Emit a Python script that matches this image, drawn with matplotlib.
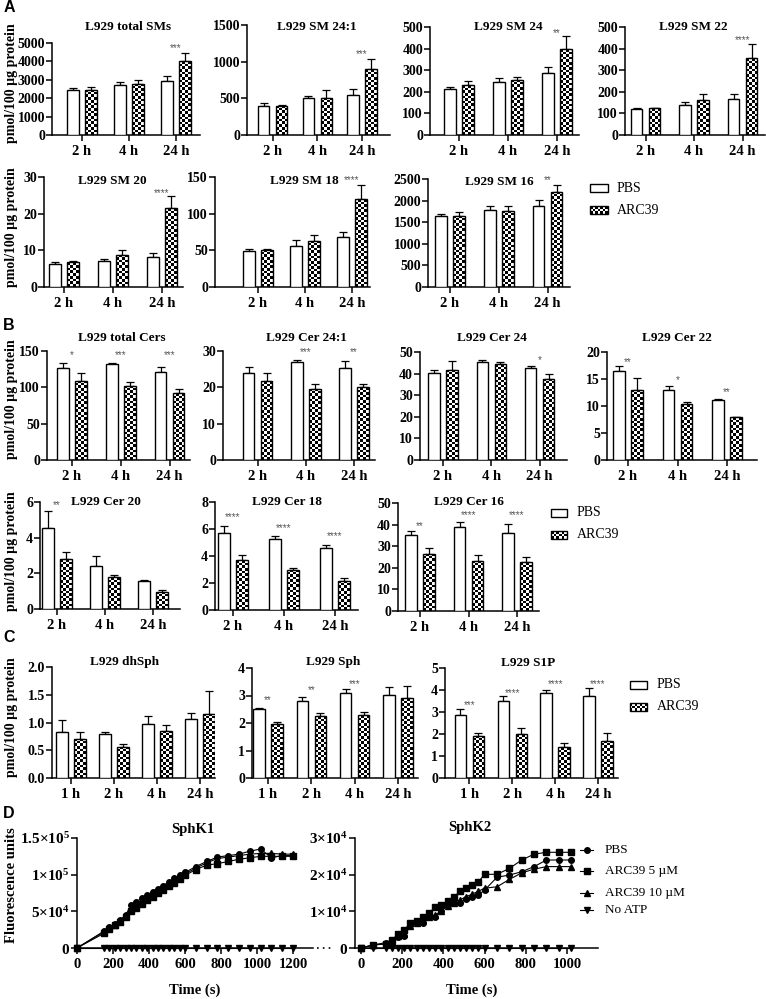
import numpy as np
import matplotlib
matplotlib.use('Agg')
import matplotlib.pyplot as plt
from matplotlib.patches import Rectangle

# ======================= DATA =======================
hours3 = ['2 h', '4 h', '24 h']
hours4 = ['1 h', '2 h', '4 h', '24 h']
bar_groups = ['PBS', 'ARC39']

# ---- A : sphingomyelins ----
sm_total_pbs = [2450, 2720, 2950]
sm_total_pbs_sd = [110, 170, 230]
sm_total_arc = [2470, 2790, 4000]
sm_total_arc_sd = [130, 210, 450]
sm_total_sig = ['', '', '***']
sm_total_sig_y = [0, 0, 4720]
sm_total_yticks = [0, 1000, 2000, 3000, 4000, 5000]

sm241_pbs = [400, 500, 540]
sm241_pbs_sd = [35, 35, 90]
sm241_arc = [400, 510, 900]
sm241_arc_sd = [15, 100, 140]
sm241_sig = ['', '', '***']
sm241_sig_y = [0, 0, 1105]
sm241_yticks = [0, 500, 1000, 1500]

sm24_pbs = [212, 244, 286]
sm24_pbs_sd = [8, 20, 30]
sm24_arc = [231, 255, 397]
sm24_arc_sd = [20, 15, 60]
sm24_sig = ['', '', '**']
sm24_sig_y = [0, 0, 472]
sm24_yticks = [0, 100, 200, 300, 400, 500]

sm22_pbs = [119, 139, 167]
sm22_pbs_sd = [8, 12, 23]
sm22_arc = [123, 162, 355]
sm22_arc_sd = [4, 28, 65]
sm22_sig = ['', '', '****']
sm22_sig_y = [0, 0, 440]
sm22_yticks = [0, 100, 200, 300, 400, 500]

sm20_pbs = [6.3, 7.1, 8.3]
sm20_pbs_sd = [0.4, 0.6, 1.1]
sm20_arc = [6.7, 8.8, 21.5]
sm20_arc_sd = [0.5, 1.2, 3.3]
sm20_sig = ['', '', '****']
sm20_sig_y = [0, 0, 25.7]
sm20_yticks = [0, 10, 20, 30]

sm18_pbs = [49.5, 56.5, 68.5]
sm18_pbs_sd = [2.5, 7, 6]
sm18_arc = [51, 63, 120]
sm18_arc_sd = [1.5, 7.5, 19]
sm18_sig = ['', '', '****']
sm18_sig_y = [0, 0, 146]
sm18_yticks = [0, 50, 100, 150]

sm16_pbs = [1650, 1780, 1870]
sm16_pbs_sd = [50, 90, 150]
sm16_arc = [1650, 1770, 2200]
sm16_arc_sd = [80, 110, 170]
sm16_sig = ['', '', '**']
sm16_sig_y = [0, 0, 2477]
sm16_yticks = [0, 500, 1000, 1500, 2000, 2500]

# ---- B : ceramides ----
cer_total_pbs = [126, 132, 121]
cer_total_pbs_sd = [7, 2, 7]
cer_total_arc = [109, 102, 92]
cer_total_arc_sd = [11, 5, 6]
cer_total_sig = ['*', '***', '***']
cer_total_sig_y = [144.5, 144.5, 144.5]
cer_total_yticks = [0, 50, 100, 150]

cer241_pbs = [24.0, 26.9, 25.3]
cer241_pbs_sd = [1.5, 0.7, 2.0]
cer241_arc = [21.7, 19.6, 20.0]
cer241_arc_sd = [2.3, 1.2, 0.8]
cer241_sig = ['', '***', '**']
cer241_sig_y = [0, 29.7, 29.7]
cer241_yticks = [0, 10, 20, 30]

cer24_pbs = [40.4, 45.5, 42.4]
cer24_pbs_sd = [1.3, 0.8, 1.2]
cer24_arc = [41.7, 44.4, 37.5]
cer24_arc_sd = [4.0, 1.1, 2.5]
cer24_sig = ['', '', '*']
cer24_sig_y = [0, 0, 46.3]
cer24_yticks = [0, 10, 20, 30, 40, 50]

cer22_pbs = [16.5, 13.0, 11.1]
cer22_pbs_sd = [1.0, 0.7, 0.2]
cer22_arc = [13.0, 10.3, 7.9]
cer22_arc_sd = [2.1, 0.5, 0.15]
cer22_sig = ['**', '*', '**']
cer22_sig_y = [18.1, 14.8, 12.6]
cer22_yticks = [0, 5, 10, 15, 20]

cer20_pbs = [4.55, 2.4, 1.55]
cer20_pbs_sd = [0.95, 0.6, 0.05]
cer20_arc = [2.8, 1.78, 0.98]
cer20_arc_sd = [0.4, 0.12, 0.08]
cer20_sig = ['**', '', '']
cer20_sig_y = [5.83, 0, 0]
cer20_yticks = [0, 2, 4, 6]

cer18_pbs = [5.7, 5.25, 4.6]
cer18_pbs_sd = [0.5, 0.2, 0.25]
cer18_arc = [3.7, 3.0, 2.15]
cer18_arc_sd = [0.4, 0.12, 0.25]
cer18_sig = ['****', '****', '****']
cer18_sig_y = [6.9, 6.05, 5.5]
cer18_yticks = [0, 2, 4, 6, 8]

cer16_pbs = [35.2, 39.0, 36.0]
cer16_pbs_sd = [2.0, 2.3, 4.3]
cer16_arc = [26.4, 23.3, 22.5]
cer16_arc_sd = [2.6, 2.5, 2.4]
cer16_sig = ['**', '****', '****']
cer16_sig_y = [39.4, 44.4, 44.4]
cer16_yticks = [0, 10, 20, 30, 40, 50]

# ---- C : sphingoid bases ----
dhsph_pbs = [0.82, 0.79, 0.97, 1.06]
dhsph_pbs_sd = [0.22, 0.03, 0.15, 0.12]
dhsph_arc = [0.71, 0.56, 0.85, 1.16]
dhsph_arc_sd = [0.11, 0.05, 0.10, 0.41]
dhsph_sig = ['', '', '', '']
dhsph_sig_y = [0, 0, 0, 0]
dhsph_yticks = [0.0, 0.5, 1.0, 1.5, 2.0]

sph_pbs = [2.51, 2.81, 3.10, 3.02]
sph_pbs_sd = [0.02, 0.15, 0.12, 0.30]
sph_arc = [1.96, 2.25, 2.29, 2.90]
sph_arc_sd = [0.07, 0.10, 0.12, 0.45]
sph_sig = ['**', '**', '***', '']
sph_sig_y = [2.84, 3.2, 3.42, 0]
sph_yticks = [0, 1, 2, 3, 4]

s1p_pbs = [2.86, 3.51, 3.88, 3.73]
s1p_pbs_sd = [0.26, 0.22, 0.12, 0.35]
s1p_arc = [1.91, 1.99, 1.39, 1.70]
s1p_arc_sd = [0.15, 0.27, 0.20, 0.36]
s1p_sig = ['***', '****', '****', '****']
s1p_sig_y = [3.32, 3.86, 4.27, 4.27]
s1p_yticks = [0, 1, 2, 3, 4, 5]

# ---- D : kinase assays (fluorescence units) ----
kin_series = ['PBS', 'ARC39 5 \u00b5M', 'ARC39 10 \u00b5M', 'No ATP']
k1_time = [0, 150, 180, 210, 240, 270, 300, 330, 360, 390, 420, 450, 480, 510,
           540, 570, 600, 660, 720, 780, 840, 900, 960, 1020, 1080, 1140, 1200]
k1_pbs = [0, 23000, 28000, 33000, 38000, 45000, 58000, 63000, 68000, 72000, 77000,
          81000, 85000, 90000, 95000, 99000, 103000, 111000, 118000, 124000,
          126000, 128000, 132000, 135000, 123000, 126000, 126000]
k1_arc5 = [0, 20000, 26000, 31000, 36000, 42000, 50000, 55000, 60000, 65000, 70000,
           75000, 79000, 84000, 89000, 94000, 99000, 107000, 113000, 115000,
           118000, 121000, 123000, 125000, 125000, 125000, 125000]
k1_arc10 = [0, 22000, 27000, 32000, 37000, 43000, 53000, 59000, 64000, 69000, 74000,
            78000, 82000, 87000, 92000, 97000, 101000, 109000, 116000, 122000,
            124000, 126000, 128000, 129000, 129000, 128000, 128000]
k1_noatp = [0, 0, 0, 0, 0, 0, 0, 0, 0, 0, 0, 0, 0, 0,
            0, 0, 0, 0, 0, 0, 0, 0, 0, 0, 0, 0, 0]
k1_xticks = [0, 200, 400, 600, 800, 1000, 1200]
k1_yticks = [0, 50000, 100000, 150000]
k1_yticklabels = [r'$\mathbf{0}$', r'$\mathbf{5{\times}10^{4}}$',
                  r'$\mathbf{1{\times}10^{5}}$', r'$\mathbf{1.5{\times}10^{5}}$']

k2_time = [0, 60, 120, 150, 180, 210, 240, 270, 300, 330, 360, 390, 420, 450,
           480, 510, 540, 570, 600, 660, 720, 780, 840, 900, 960, 1020]
k2_pbs = [0, 800, 1500, 1900, 3100, 3300, 6300, 6900, 6900, 8400, 8400, 10200,
          11700, 12400, 12200, 13500, 13800, 14500, 15800, 19300, 19900, 20800,
          22200, 24000, 24000, 24000]
k2_arc5 = [0, 900, 1100, 2200, 3800, 4900, 6900, 7400, 8500, 9600, 11100, 11700,
           12900, 13800, 15500, 16300, 17200, 18100, 20100, 20100, 21700, 24000,
           25600, 26100, 26100, 26100]
k2_arc10 = [0, 800, 1100, 2000, 3300, 3800, 6000, 6700, 7600, 8500, 9000, 10200,
            11500, 12400, 13100, 14000, 14700, 15500, 16300, 16700, 18700, 20500,
            21500, 22200, 22200, 22200]
k2_noatp = [0, 0, 0, 0, 0, 0, 0, 0, 0, 0, 0, 0, 0, 0,
            0, 0, 0, 0, 0, 0, 0, 0, 0, 0, 0, 0]
k2_xticks = [0, 200, 400, 600, 800, 1000]
k2_yticks = [0, 10000, 20000, 30000]
k2_yticklabels = [r'$\mathbf{0}$', r'$\mathbf{1{\times}10^{4}}$',
                  r'$\mathbf{2{\times}10^{4}}$', r'$\mathbf{3{\times}10^{4}}$']

# ======================= STYLE / LAYOUT =======================
W, H = 766, 999
SERIF = ['Liberation Serif', 'DejaVu Serif']
SANS = ['Liberation Sans', 'DejaVu Sans']
plt.rcParams['font.family'] = SERIF
plt.rcParams['mathtext.fontset'] = 'custom'
plt.rcParams['mathtext.rm'] = 'Liberation Serif'
plt.rcParams['mathtext.bf'] = 'Liberation Serif:bold'
plt.rcParams['mathtext.it'] = 'Liberation Serif:italic'
plt.rcParams['mathtext.fallback'] = 'stix'
plt.rcParams['axes.linewidth'] = 1.1
plt.rcParams['xtick.major.width'] = 1.1
plt.rcParams['ytick.major.width'] = 1.1

fig = plt.figure(figsize=(W / 100, H / 100), dpi=100)
fig.patch.set_facecolor('white')

ov = fig.add_axes([0, 0, 1, 1], zorder=0)
ov.set_xlim(0, W)
ov.set_ylim(H, 0)
ov.axis('off')

CELL = 2.6  # checker cell size in pixels


def checker_fill(ax, rect):
    x0 = rect.get_x(); w = rect.get_width(); h = rect.get_height()
    if h <= 0:
        return
    p0 = ax.transData.transform((x0, 0))
    p1 = ax.transData.transform((x0 + w, h))
    nx = max(1, int(round(abs(p1[0] - p0[0]) / CELL)))
    ny = max(1, int(round(abs(p1[1] - p0[1]) / CELL)))
    arr = (np.add.outer(np.arange(ny), np.arange(nx)) % 2).astype(float)
    im = ax.imshow(arr, extent=(x0, x0 + w, 0, h), origin='lower', cmap='gray',
                   vmin=0, vmax=1, interpolation='nearest', aspect='auto', zorder=2.5)
    im.set_clip_path(rect)


def px_axes(L, top, R, bottom, **kw):
    return fig.add_axes([L / W, 1 - bottom / H, (R - L) / W, (bottom - top) / H], **kw)


def bar_panel(spec):
    L, c0, cN, R, top, zero = spec['box']
    labels = spec['labels']
    n = len(labels)
    sp = (cN - c0) / (n - 1)
    xlim = (-(c0 - L) / sp, (n - 1) + (R - cN) / sp)
    yt = spec['yticks']
    ax = px_axes(L, top, R, zero)
    ax.patch.set_alpha(0)
    ax.set_xlim(xlim); ax.set_ylim(0, yt[-1])
    x = np.arange(n)
    bw = 11.5 / sp
    off = 9.0 / sp
    ax.bar(x - off, spec['pbs'], bw, facecolor='white', edgecolor='black', lw=1.0, zorder=3)
    bars = ax.bar(x + off, spec['arc'], bw, facecolor='none', edgecolor='black', lw=1.0, zorder=3)
    for b in bars:
        checker_fill(ax, b)
    z = np.zeros(n)
    ax.errorbar(x - off, spec['pbs'], yerr=[z, spec['pbs_sd']], fmt='none', ecolor='black',
                elinewidth=0.9, capsize=2.6, capthick=0.9, zorder=2)
    ax.errorbar(x + off, spec['arc'], yerr=[z, spec['arc_sd']], fmt='none', ecolor='black',
                elinewidth=0.9, capsize=2.6, capthick=0.9, zorder=2)
    for i, s in enumerate(spec['sig']):
        if s:
            ax.text(x[i], spec['sig_y'][i], s, ha='center', va='center', fontsize=7,
                    color='#555555', family=SANS, clip_on=False)
    ax.set_xlim(xlim); ax.set_ylim(0, yt[-1])
    ax.set_xticks(x)
    ax.set_xticklabels(labels, fontsize=10.5, fontweight='bold')
    ax.set_yticks(yt)
    fmt = spec.get('fmt', '%d')
    ax.set_yticklabels([fmt % v for v in yt], fontsize=10, fontweight='bold')
    ax.tick_params(axis='y', direction='out', length=4, pad=1)
    ax.tick_params(axis='x', direction='out', length=4.5, pad=3)
    for s in ['top', 'right']:
        ax.spines[s].set_visible(False)
    tx, ty = spec['tpos']
    ov.text(tx, ty, spec['title'], ha='center', va='center', fontsize=9.5, fontweight='bold')
    return ax


def mk(title, labels, pbs, pbs_sd, arc, arc_sd, sig, sig_y, yticks, box, tpos, fmt='%d'):
    return dict(title=title, labels=labels, pbs=pbs, pbs_sd=pbs_sd, arc=arc, arc_sd=arc_sd,
                sig=sig, sig_y=sig_y, yticks=yticks, box=box, tpos=tpos, fmt=fmt)


specs = [
    mk('L929 total SMs', hours3, sm_total_pbs, sm_total_pbs_sd, sm_total_arc, sm_total_arc_sd,
       sm_total_sig, sm_total_sig_y, sm_total_yticks, (52, 82, 176, 200, 43, 135), (128, 27)),
    mk('L929 SM 24:1', hours3, sm241_pbs, sm241_pbs_sd, sm241_arc, sm241_arc_sd,
       sm241_sig, sm241_sig_y, sm241_yticks, (247, 272.5, 362, 390, 25, 135), (317, 27)),
    mk('L929 SM 24', hours3, sm24_pbs, sm24_pbs_sd, sm24_arc, sm24_arc_sd,
       sm24_sig, sm24_sig_y, sm24_yticks, (430, 459, 557, 579, 27, 135), (508, 27)),
    mk('L929 SM 22', hours3, sm22_pbs, sm22_pbs_sd, sm22_arc, sm22_arc_sd,
       sm22_sig, sm22_sig_y, sm22_yticks, (625, 645.5, 742.5, 765, 27, 135), (693, 27)),
    mk('L929 SM 20', hours3, sm20_pbs, sm20_pbs_sd, sm20_arc, sm20_arc_sd,
       sm20_sig, sm20_sig_y, sm20_yticks, (44, 64, 162, 183, 177, 287), (112, 181)),
    mk('L929 SM 18', hours3, sm18_pbs, sm18_pbs_sd, sm18_arc, sm18_arc_sd,
       sm18_sig, sm18_sig_y, sm18_yticks, (215, 258, 352, 370, 177, 287), (304, 181)),
    mk('L929 SM 16', hours3, sm16_pbs, sm16_pbs_sd, sm16_arc, sm16_arc_sd,
       sm16_sig, sm16_sig_y, sm16_yticks, (428, 450, 547.5, 570, 179, 287), (499, 182)),
    mk('L929 total Cers', hours3, cer_total_pbs, cer_total_pbs_sd, cer_total_arc, cer_total_arc_sd,
       cer_total_sig, cer_total_sig_y, cer_total_yticks, (47, 72, 169.5, 190, 351, 460), (122, 338)),
    mk('L929 Cer 24:1', hours3, cer241_pbs, cer241_pbs_sd, cer241_arc, cer241_arc_sd,
       cer241_sig, cer241_sig_y, cer241_yticks, (223, 257.5, 354, 375, 351, 460), (306, 338)),
    mk('L929 Cer 24', hours3, cer24_pbs, cer24_pbs_sd, cer24_arc, cer24_arc_sd,
       cer24_sig, cer24_sig_y, cer24_yticks, (420, 443, 539.5, 567, 352, 460), (492, 338)),
    mk('L929 Cer 22', hours3, cer22_pbs, cer22_pbs_sd, cer22_arc, cer22_arc_sd,
       cer22_sig, cer22_sig_y, cer22_yticks, (607, 628, 727, 757, 352, 460), (677, 338)),
    mk('L929 Cer 20', hours3, cer20_pbs, cer20_pbs_sd, cer20_arc, cer20_arc_sd,
       cer20_sig, cer20_sig_y, cer20_yticks, (40, 57, 153, 180, 502, 609), (106, 502)),
    mk('L929 Cer 18', hours3, cer18_pbs, cer18_pbs_sd, cer18_arc, cer18_arc_sd,
       cer18_sig, cer18_sig_y, cer18_yticks, (215, 233, 335, 358, 502, 610), (287, 502)),
    mk('L929 Cer 16', hours3, cer16_pbs, cer16_pbs_sd, cer16_arc, cer16_arc_sd,
       cer16_sig, cer16_sig_y, cer16_yticks, (398, 420, 517, 539, 503, 611), (469, 502)),
    mk('L929 dhSph', hours4, dhsph_pbs, dhsph_pbs_sd, dhsph_arc, dhsph_arc_sd,
       dhsph_sig, dhsph_sig_y, dhsph_yticks, (52, 71, 200, 215, 667, 778), (125, 662), fmt='%.1f'),
    mk('L929 Sph', hours4, sph_pbs, sph_pbs_sd, sph_arc, sph_arc_sd,
       sph_sig, sph_sig_y, sph_yticks, (252, 268, 398, 418, 668, 778), (333, 662)),
    mk('L929 S1P', hours4, s1p_pbs, s1p_pbs_sd, s1p_arc, s1p_arc_sd,
       s1p_sig, s1p_sig_y, s1p_yticks, (445, 469.5, 598, 618, 668, 778), (528, 663)),
]

for sp_ in specs:
    bar_panel(sp_)


# ---- bar legends ----
def bar_legend(x0, x1, y_pbs, y_arc, tx):
    bh = 8
    ov.add_patch(Rectangle((x0, y_pbs - bh / 2), x1 - x0, bh, facecolor='white',
                           edgecolor='black', lw=1.0))
    r = Rectangle((x0, y_arc - bh / 2), x1 - x0, bh, facecolor='none', edgecolor='black',
                  lw=1.0, zorder=3)
    ov.add_patch(r)
    nx = int(round((x1 - x0) / CELL)); ny = int(round(bh / CELL))
    arr = (np.add.outer(np.arange(ny), np.arange(nx)) % 2).astype(float)
    im = ov.imshow(arr, extent=(x0, x1, y_arc + bh / 2, y_arc - bh / 2), cmap='gray',
                   vmin=0, vmax=1, interpolation='nearest', aspect='auto', zorder=2)
    im.set_clip_path(r)
    ov.text(tx, y_pbs, bar_groups[0], ha='left', va='center', fontsize=10)
    ov.text(tx, y_arc, bar_groups[1], ha='left', va='center', fontsize=10)


bar_legend(590, 608, 188, 210, 617)
bar_legend(551, 567, 513, 535, 577)
bar_legend(630, 647, 685, 707, 657)

# ---- D : line charts ----
markers = ['o', 's', '^', 'v']


def kin_panel(box, xlim, times, series, xticks, yticks, yticklabels, title, tpos, xlab_pos):
    L, top, R, bottom = box
    ax = px_axes(L, top, R, bottom)
    ax.patch.set_alpha(0)
    for vals, m in zip(series, markers):
        ax.plot(times, vals, '-', marker=m, color='black', ms=4, lw=0.8, clip_on=False, zorder=3)
    ax.set_xlim(xlim)
    ax.set_ylim(0, yticks[-1])
    ax.set_xticks(xticks)
    ax.set_xticklabels([str(v) for v in xticks], fontsize=10.5, fontweight='bold')
    ax.set_yticks(yticks)
    ax.set_yticklabels(yticklabels, fontsize=11)
    ax.tick_params(axis='y', direction='out', length=4, pad=1)
    ax.tick_params(axis='x', direction='out', length=4.5, pad=3)
    for s in ['top', 'right']:
        ax.spines[s].set_visible(False)
    ov.text(tpos[0], tpos[1], title, ha='center', va='center', fontsize=10.5, fontweight='bold')
    ov.text(xlab_pos[0], xlab_pos[1], 'Time (s)', ha='center', va='center', fontsize=10.5,
            fontweight='bold')
    return ax


kin_panel((77, 838, 313, 948), (0, 1311), k1_time, [k1_pbs, k1_arc5, k1_arc10, k1_noatp],
          k1_xticks, k1_yticks, k1_yticklabels, 'SphK1', (193, 830), (195, 990))
kin_panel((355, 838, 598, 948), (-29, 1150), k2_time, [k2_pbs, k2_arc5, k2_arc10, k2_noatp],
          k2_xticks, k2_yticks, k2_yticklabels, 'SphK2', (470, 827), (472, 990))
ov.plot([317, 332], [948, 948], color='black', lw=1.2, ls=(0, (1, 2.5)))

# D legend
for i, (lab, m, yy) in enumerate(zip(kin_series, markers, [850, 871, 893, 910])):
    ov.plot([580, 593], [yy, yy], color='black', lw=0.8)
    ov.plot([586.5], [yy], marker=m, color='black', ms=4)
    ov.text(605, yy, lab, ha='left', va='center', fontsize=9.5)

# y-axis labels
for yc in [83, 227, 399, 551, 717]:
    ov.text(12, yc, 'pmol/100 \u00b5g protein', rotation=90, ha='center', va='center',
            fontsize=10, fontweight='bold')
ov.text(12, 885, 'Fluorescence units', rotation=90, ha='center', va='center',
        fontsize=10.5, fontweight='bold')

# panel letters
for lt, (xx, yy) in zip('ABCD', [(9, 8), (9, 325), (9, 638), (9, 813)]):
    ov.text(xx, yy, lt, ha='center', va='center', fontsize=11.5, fontweight='bold', family=SANS)

ov.set_xlim(0, W)
ov.set_ylim(H, 0)

fig.savefig('out.png', dpi=100, facecolor='white')
